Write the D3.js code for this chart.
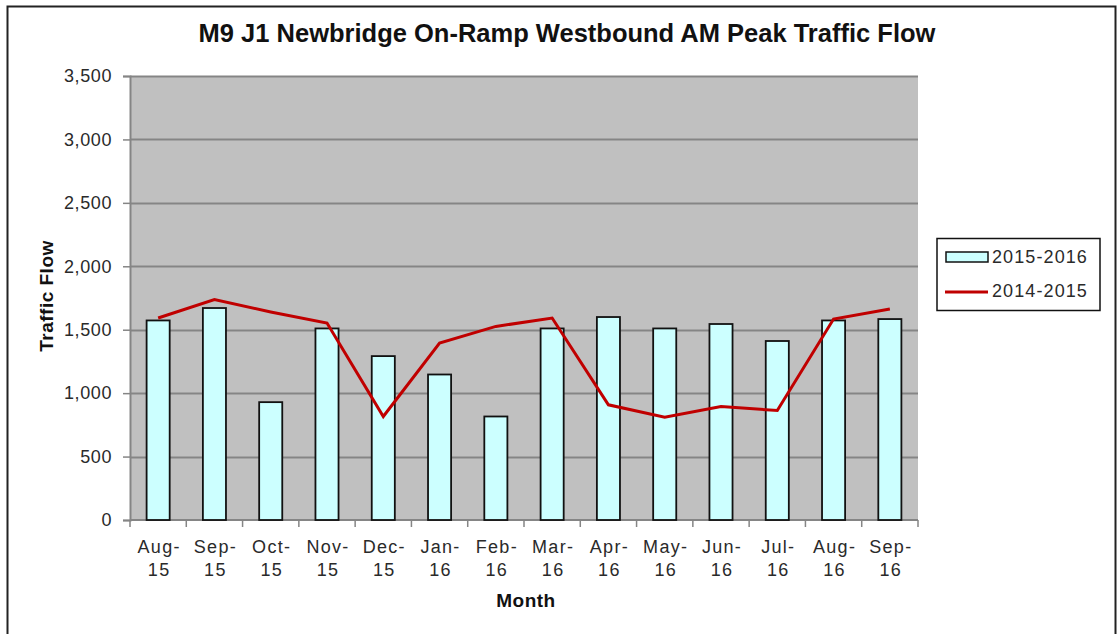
<!DOCTYPE html>
<html>
<head>
<meta charset="utf-8">
<script src="https://cdn.jsdelivr.net/npm/d3@7"></script>
<style>
  html, body { margin: 0; padding: 0; background: #fff; }
  svg { display: block; }
  text { font-family: "Liberation Sans", Arial, sans-serif; }
</style>
</head>
<body>
<svg id="chart" width="1117" height="634"></svg>
<script>
const months = ["Aug-15","Sep-15","Oct-15","Nov-15","Dec-15","Jan-16","Feb-16","Mar-16","Apr-16","May-16","Jun-16","Jul-16","Aug-16","Sep-16"];
const flow2015_2016 = [1573,1671,929,1510,1292,1147,816,1510,1600,1510,1545,1411,1573,1584];
const flow2014_2015 = [1592,1737,1640,1553,816,1395,1526,1592,908,811,895,863,1584,1663];
const yTicks = [0,500,1000,1500,2000,2500,3000,3500];
const seriesNames = ["2015-2016","2014-2015"];
const titleText = "M9 J1 Newbridge On-Ramp Westbound AM Peak Traffic Flow";

const svg = d3.select("#chart");
const plot = {left: 130, right: 918, top: 76, bottom: 520};

// outer frame
svg.append("rect").attr("x", 7.5).attr("y", 6.5).attr("width", 1108).attr("height", 640)
  .attr("fill", "#fff").attr("stroke", "#222").attr("stroke-width", 2);

const x = d3.scaleBand().domain(months).range([plot.left, plot.right])
  .paddingInner(0.59).paddingOuter(0.295);
const y = d3.scaleLinear().domain([0, 3500]).range([plot.bottom, plot.top]);

// plot background
svg.append("rect").attr("x", plot.left).attr("y", plot.top)
  .attr("width", plot.right - plot.left).attr("height", plot.bottom - plot.top)
  .attr("fill", "#c0c0c0");

// gridlines
svg.append("g").selectAll("line").data(yTicks.filter(d => d > 0)).join("line")
  .attr("x1", plot.left).attr("x2", plot.right)
  .attr("y1", d => Math.round(y(d)) + 0.5).attr("y2", d => Math.round(y(d)) + 0.5)
  .attr("stroke", "#858585").attr("stroke-width", 2);

// y axis
const yAxis = svg.append("g").attr("transform", `translate(${plot.left},0)`)
  .call(d3.axisLeft(y).tickValues(yTicks).tickSize(7).tickPadding(11).tickFormat(d3.format(",")));
yAxis.attr("font-size", null).attr("font-family", null);
yAxis.select(".domain").attr("stroke", "#858585").attr("stroke-width", 2);
yAxis.selectAll(".tick line").attr("stroke", "#858585").attr("stroke-width", 1.5);
yAxis.selectAll(".tick text").attr("fill", "#2a2a2a").style("font-size", "18px")
  .style("letter-spacing", "0.6px");

// x axis
const xStep = x.step();
const xAxisG = svg.append("g").attr("transform", `translate(0,${plot.bottom})`);
xAxisG.append("line").attr("x1", plot.left).attr("x2", plot.right).attr("y1", 0).attr("y2", 0)
  .attr("stroke", "#858585").attr("stroke-width", 2);
const boundaries = d3.range(months.length + 1).map(i => plot.left + i * xStep);
xAxisG.selectAll("line.tk").data(boundaries).join("line").attr("class", "tk")
  .attr("x1", d => d).attr("x2", d => d).attr("y1", 0).attr("y2", 7)
  .attr("stroke", "#858585").attr("stroke-width", 1.5);
const xl = xAxisG.selectAll("text.xl").data(months).join("text").attr("class", "xl")
  .attr("text-anchor", "middle").attr("fill", "#2a2a2a").style("font-size", "18px")
  .style("letter-spacing", "1.3px");
xl.append("tspan").attr("x", d => x(d) + x.bandwidth() / 2 + 1).attr("y", 33).text(d => d.split("-")[0] + "-");
xl.append("tspan").attr("x", d => x(d) + x.bandwidth() / 2 + 1).attr("y", 56).text(d => d.split("-")[1]);

// bars
svg.append("g").selectAll("rect").data(months).join("rect")
  .attr("x", d => x(d)).attr("width", x.bandwidth())
  .attr("y", (d, i) => y(flow2015_2016[i]))
  .attr("height", (d, i) => y(0) - y(flow2015_2016[i]))
  .attr("fill", "#ccffff").attr("stroke", "#111").attr("stroke-width", 1.8);

// line
const line = d3.line().x((d, i) => x(months[i]) + x.bandwidth() / 2).y(d => y(d));
svg.append("path").datum(flow2014_2015).attr("d", line)
  .attr("fill", "none").attr("stroke", "#c00000").attr("stroke-width", 3)
  .attr("stroke-linejoin", "miter");

// title
svg.append("text").attr("x", 567).attr("y", 42).attr("text-anchor", "middle")
  .style("font-size", "25.5px").style("font-weight", "bold").attr("fill", "#111")
  .text(titleText);

// axis titles
svg.append("text").attr("x", 526).attr("y", 607).attr("text-anchor", "middle")
  .style("font-size", "19px").style("font-weight", "bold").style("letter-spacing", "0.5px")
  .attr("fill", "#111").text("Month");
svg.append("text").attr("transform", "translate(53,296) rotate(-90)").attr("text-anchor", "middle")
  .style("font-size", "19px").style("font-weight", "bold").style("letter-spacing", "0.5px")
  .attr("fill", "#111").text("Traffic Flow");

// legend
const lg = svg.append("g");
lg.append("rect").attr("x", 937).attr("y", 238.5).attr("width", 163).attr("height", 72)
  .attr("fill", "#fff").attr("stroke", "#111").attr("stroke-width", 1.5);
lg.append("rect").attr("x", 946).attr("y", 252).attr("width", 42).attr("height", 10)
  .attr("fill", "#ccffff").attr("stroke", "#111").attr("stroke-width", 1.5);
lg.append("line").attr("x1", 945).attr("x2", 988).attr("y1", 292).attr("y2", 292)
  .attr("stroke", "#c00000").attr("stroke-width", 3);
lg.selectAll("text").data(seriesNames).join("text")
  .attr("x", 992).attr("y", (d, i) => 263 + i * 34)
  .style("font-size", "18px").attr("fill", "#2a2a2a").style("letter-spacing", "1.1px").text(d => d);
</script>
</body>
</html>
